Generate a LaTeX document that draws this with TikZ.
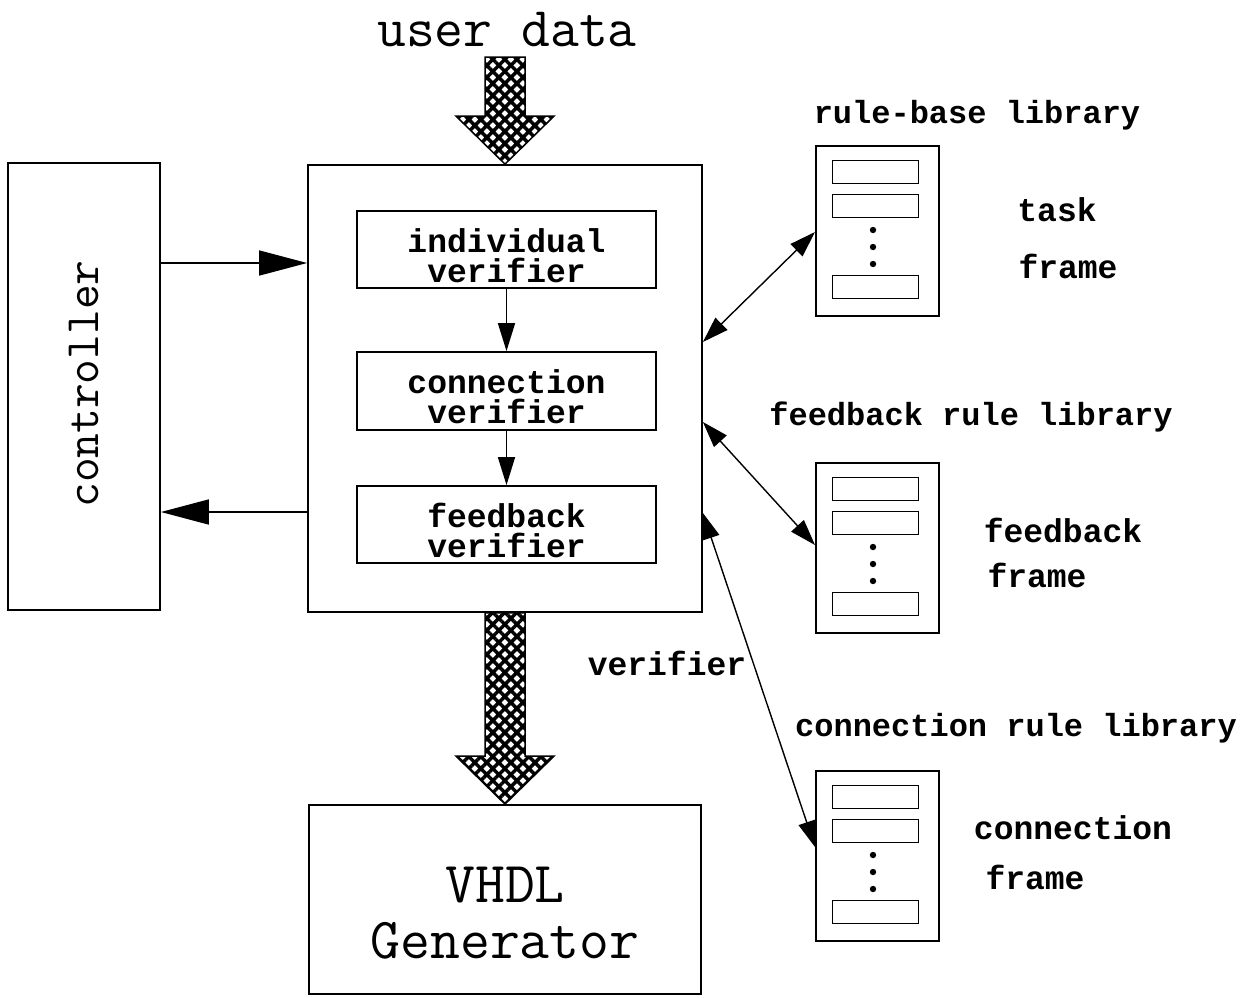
\documentclass[tikz,border=0pt]{standalone}
\usepackage{fontspec}
\setmonofont{Latin Modern Mono}
\newfontfamily\lblfont{Liberation Mono}
\usetikzlibrary{arrows.meta,patterns.meta,calc}

% one rule library: outer frame, three slots and a column of dots
% #1 node name, #2 top edge (y grows downwards)
\newcommand\rulelib[2]{%
  \node[libbox, anchor=north west] (#1) at (815,#2) {};
  \node[slot, anchor=north west] (#1-s1) at (832,#2+15) {};
  \node[slot, anchor=north west] (#1-s2) at (832,#2+49) {};
  \node[slot, anchor=north west] (#1-s3) at (832,#2+130) {};
  \foreach \dy in {85,102,119} \fill (873,#2+\dy) circle (3.2);
}

\begin{document}
\begin{tikzpicture}[x=1pt,y=-1pt,
  box/.style={draw, line width=1.8pt, inner sep=0pt},
  stage/.style={box, minimum width=299pt, minimum height=77pt, align=center,
    text height=71pt, text depth=6pt,
    font=\lblfont\bfseries\fontsize{33}{30}\selectfont},
  libbox/.style={draw, line width=1.8pt, minimum width=123pt, minimum height=170pt, inner sep=0pt},
  slot/.style={draw, line width=1.4pt, minimum width=86pt, minimum height=23pt, inner sep=0pt},
  lbl/.style={inner sep=0pt, font=\lblfont\bfseries\fontsize{33}{30}\selectfont},
  title/.style={inner sep=0pt, font=\lblfont\bfseries\fontsize{32}{30}\selectfont},
  bigtxt/.style={inner sep=0pt, font=\ttfamily\fontsize{56}{56}\selectfont},
  flow/.style={line width=1.6pt, -{Triangle[length=48pt,width=25pt]}},
  chainarrow/.style={line width=1.6pt, -{Triangle[length=28pt,width=17pt]}},
  link/.style={line width=1.4pt, {Triangle[length=26pt,width=17pt]}-{Triangle[length=26pt,width=17pt]}},
  hatcharrow/.style={line width=1.5pt, preaction={fill=white},
    pattern={Hatch[angle=45,distance=8.5pt,line width=3.5pt]}}
]
\useasboundingbox (0,0) rectangle (1242,997);
\fill[white] (0,0) rectangle (1242,997);

% controller and verifier block
\node[box, minimum width=152pt, minimum height=447pt] (ctrl) at (84,386.5) {};
\node[bigtxt, rotate=90, font=\ttfamily\fontsize{48}{48}\selectfont] (ctrltxt) at (84,384) {controller};

\node[box, minimum width=394pt, minimum height=447pt] (main) at (505,388.5) {};
\node[stage] (ind) at (506.5,249.5) {individual\\verifier};
\node[stage, minimum height=78pt] (con) at (506.5,391) {connection\\verifier};
\node[stage] (fb) at (506.5,524.5) {feedback\\verifier};

\draw[chainarrow] (ind.south) -- (con.north);
\draw[chainarrow] (con.south) -- (fb.north);

\draw[flow] (ctrl.east |- {(0,263)}) -- (main.west |- {(0,263)});
\draw[flow] (main.west |- {(0,512)}) -- (ctrl.east |- {(0,512)});

% VHDL generator
\node[box, minimum width=392pt, minimum height=189pt, align=center,
  text height=150pt, text depth=33pt,
  font=\ttfamily\fontsize{58}{56}\selectfont] (vhdl) at (505,899.5) {VHDL\\Generator};

% user data input
\node[bigtxt] (user) at (507,30) {user data};
\coordinate (ua) at (main.north);
\draw[hatcharrow] ($(ua)+(-20,-107)$) -- ($(ua)+(20,-107)$) -- ($(ua)+(20,-48)$)
  -- ($(ua)+(49,-48)$) -- (ua) -- ($(ua)+(-49,-48)$) -- ($(ua)+(-20,-48)$) -- cycle;

% verifier output to the generator
\coordinate (da) at (main.south);
\coordinate (db) at (vhdl.north);
\draw[hatcharrow] ($(da)+(-20,0)$) -- ($(da)+(20,0)$) -- ($(db)+(20,-48)$)
  -- ($(db)+(49,-48)$) -- (db) -- ($(db)+(-49,-48)$) -- ($(db)+(-20,-48)$) -- cycle;
\node[lbl] (vlabel) at (667,663) {verifier};

% rule libraries
\node[title] (rtitle) at (977,115) {rule-base library};
\rulelib{rlib}{145}
\node[lbl] (rtask) at (1057,210) {task};
\node[lbl] (rframe) at (1068,266) {frame};

\node[title] (ftitle) at (971,417) {feedback rule library};
\rulelib{flib}{462}
\node[lbl] (ffb) at (1063,530) {feedback};
\node[lbl] (fframe) at (1037,575) {frame};

\node[title] (ctitle) at (1016,728) {connection rule library};
\rulelib{clib}{770}
\node[lbl] (ccon) at (1073,828) {connection};
\node[lbl] (cframe) at (1035,877) {frame};

% links between the verifier block and the libraries
\draw[link] (main.east |- {(0,342)}) -- (rlib.west |- {(0,232)});
\draw[link] (main.east |- {(0,422)}) -- (flib.west |- {(0,545)});
\draw[link] (main.east |- {(0,513)}) -- (clib.west |- {(0,847)});
\end{tikzpicture}
\end{document}
